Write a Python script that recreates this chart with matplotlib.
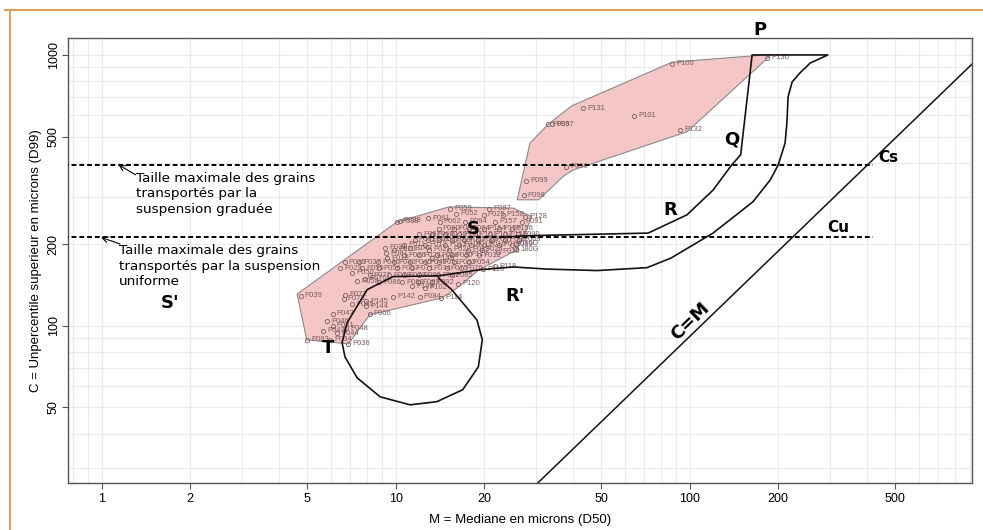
import numpy as np
import matplotlib.pyplot as plt
from matplotlib.lines import Line2D
from matplotlib.ticker import NullFormatter, LogLocator

# --- echantillons (M = D50, C = D99, microns) ---
lower_m = [4.75, 10.1, 10.3, 15.3, 16.0, 20.8, 19.9, 23.1, 27.5, 26.8,
           12.9, 14.1, 21.8, 17.2, 25.7, 25.7, 22.3, 17.4, 9.19, 9.3,
           11.2, 9.35, 13.3, 21.8, 19.8, 6.45, 7.1, 7.86, 7.4, 11.4,
           9.8, 12.05, 6.72, 6.65, 7.1, 7.95, 7.95, 6.1, 5.85, 6.1,
           6.8, 5.65, 6.3, 4.98, 5.97, 6.9, 14.3, 16.3, 8.15,
           14.0, 15.8, 17.7, 20.0, 22.4, 24.8,
           12.0, 13.3, 14.7, 16.4, 18.6, 20.9, 23.5, 26.0,
           11.6, 12.9, 14.0, 15.5, 17.1, 19.0, 21.2, 23.5, 26.2,
           10.7, 12.6, 14.7, 16.4, 18.1, 20.0, 22.4, 24.8,
           9.9, 13.0, 15.2, 17.6, 19.6,
           10.7, 12.0, 13.8, 15.5, 19.2,
           6.7, 7.5, 8.7, 9.9, 11.2, 12.6, 14.0, 15.8, 17.7,
           7.7, 8.8, 10.1, 11.4, 13.0, 14.9, 16.7,
           8.15, 9.5, 10.7, 12.0, 13.9, 15.5,
           8.8, 10.5, 11.9, 13.3,
           12.6]
lower_c = [129, 242, 244, 270, 259, 271, 257, 257, 253, 242,
           250, 242, 242, 242, 201, 192, 188, 183, 194, 185,
           193, 178, 178, 166, 162, 163, 157, 149, 146, 140,
           128, 128, 130, 126, 120, 123, 118, 111, 104, 100,
           98, 96, 94, 89, 89, 85.8, 127, 143, 111,
           228, 228, 228, 228, 228, 228,
           218, 218, 218, 218, 218, 218, 218, 218,
           208, 208, 208, 208, 208, 208, 208, 208, 208,
           199, 199, 199, 199, 199, 199, 199, 199,
           191, 191, 191, 191, 191,
           182, 182, 182, 182, 182,
           172, 172, 172, 172, 172, 172, 172, 172, 172,
           163, 163, 163, 163, 163, 163, 163,
           154, 154, 154, 154, 154, 154,
           145, 145, 145, 145,
           138]
lower_lab = ['P039', 'P038', 'P038', 'P059', 'P052', 'P087', 'P025', 'P158', 'P128', 'P091',
             'P061', 'P062', 'P157', 'P094', '180D', '180G', 'P010', 'P127', 'P031', 'P081',
             'B148', 'P018', 'P149', 'P118', 'P116', 'P029', 'P050', 'P070', 'P058', 'P198',
             'P142', 'P084', 'P072', 'P073', 'P065', 'P145', 'P144', 'P047', 'P046', 'P041',
             'P048', 'P043', 'P044', 'P083', 'P034', 'P036', 'P114', 'P120', 'P066',
             'P060', 'P063', 'P064', 'P154', 'P155', 'P156',
             'P067', 'P069', 'B150', 'P150', 'P151', 'P152', 'P153', 'P090',
             'P001', 'P002', 'P003', 'P004', 'P005', 'P006', 'P007', 'P008', 'P009',
             'P011', 'P012', 'P013', 'P014', 'P015', 'P016', 'P017', 'P019',
             'P020', 'P021', 'P022', 'P023', 'P024',
             'P026', 'P027', 'P028', 'P030', 'P032',
             'P035', 'P037', 'P040', 'P042', 'P045', 'P049', 'P051', 'P053', 'P054',
             'P055', 'P056', 'P057', 'P071', 'P074', 'P075', 'P076',
             'P077', 'P078', 'P079', 'P080', 'P082', 'P085',
             'P086', 'P088', 'P089', 'P092',
             'P102']

upper_m = [86.9, 183, 43.5, 64.8, 33.0, 34.0, 92.7, 37.9, 27.7, 27.2]
upper_c = [926, 975, 636, 596, 555, 555, 529, 387, 343, 303]
upper_lab = ['P100', 'P130', 'P131', 'P101', 'P095', 'P097', 'P132', 'P096', 'P099', 'P098']

# enveloppes
hull_low_m = [4.62, 10.1, 15.2, 25.1, 29.0, 28.0, 25.9, 19.2, 15.9, 14.3, 8.15, 6.9, 4.98]
hull_low_c = [131, 242, 275, 272, 253, 230, 191, 161, 136, 126.6, 109.8, 85.8, 88.8]
hull_up_m = [25.9, 28.6, 33.0, 39.7, 87, 190, 98, 40.1, 37.1, 30.6]
hull_up_c = [292, 472, 555, 649, 940, 1005, 521, 376, 356, 292]

# courbe de Passega (S-R-Q-P puis R'-T)
curve_m = [22.6, 27.1, 72.2, 97.9, 120, 139, 149, 163, 295, 257, 237, 223, 216, 214, 211,
           200, 188, 164, 120, 86.4, 71.6, 48.4, 32.7, 25.1, 19.2, 14.0, 9.79, 7.99, 6.83,
           6.57, 6.72, 7.39, 8.85, 11.2, 13.8, 16.9, 19.1, 19.7, 18.9, 16.9, 15.5, 14.0]
curve_c = [212, 215, 220, 257, 317, 393, 428, 1000, 1000, 934, 858, 795, 700, 561, 473,
           393, 346, 287, 220, 178, 164, 160, 162, 165, 161, 153, 152, 136, 102.6,
           86.6, 76.8, 64.3, 54.7, 51.1, 52.5, 58.1, 70.6, 88.8, 105, 121.6, 136, 150]

cm_m = [30.2, 912]
cm_c = [26.1, 925]

cs_level = 393
cu_level = 212
level_m = [0.7, 420]

fig = plt.figure(figsize=(9.83, 5.30), dpi=100)
ax = fig.add_axes([0.0692, 0.0887, 0.9196, 0.8396])
ax.set_xscale('log')
ax.set_yscale('log')
ax.set_xlim(0.768, 912)
ax.set_ylim(26.3, 1155)

ax.xaxis.set_minor_locator(LogLocator(subs=np.arange(2, 10)))
ax.yaxis.set_minor_locator(LogLocator(subs=np.arange(2, 10)))
ax.grid(which='both', color='#e6ecef', lw=0.8)
ax.set_axisbelow(True)

xt = [1, 2, 5, 10, 20, 50, 100, 200, 500]
yt = [50, 100, 200, 500, 1000]
ax.set_xticks(xt)
ax.set_xticklabels([str(v) for v in xt], family='Liberation Sans', fontsize=9)
ax.set_yticks(yt)
ax.set_yticklabels([str(v) for v in yt], family='Liberation Sans', fontsize=9,
                   rotation=90, va='center')
ax.xaxis.set_minor_formatter(NullFormatter())
ax.yaxis.set_minor_formatter(NullFormatter())
ax.tick_params(which='minor', length=0)
ax.tick_params(which='major', length=4, color='#555555')
ax.tick_params(axis='x', pad=3)
ax.tick_params(axis='y', pad=2)
for s in ax.spines.values():
    s.set_color('#555555')
    s.set_linewidth(1.0)

ax.set_xlabel('M = Mediane en microns (D50)', family='Liberation Sans', fontsize=9.5, labelpad=7)
ax.set_ylabel('C = Unpercentile superieur en microns (D99)', family='Liberation Sans',
              fontsize=9.5, labelpad=4)

# enveloppes roses
ax.fill(hull_low_m, hull_low_c, facecolor='#f5c6c6', edgecolor='#8a8a8a', lw=0.8, zorder=2)
ax.fill(hull_up_m, hull_up_c, facecolor='#f5c6c6', edgecolor='#8a8a8a', lw=0.8, zorder=2)

# points et etiquettes
pt_col = '#7a5e5e'
for mm, cc, lab in zip(lower_m + upper_m, lower_c + upper_c, lower_lab + upper_lab):
    ax.plot(mm, cc, 'o', ms=3, mfc='none', mec=pt_col, mew=0.6, zorder=3)
    ax.annotate(lab, (mm, cc), xytext=(3, 0), textcoords='offset points', va='center',
                fontsize=5.5, color=pt_col, family='Liberation Sans', zorder=3)

# niveaux Cs et Cu
ax.plot(level_m, [cs_level, cs_level], color='black', ls=(0, (2.5, 1.5)), lw=1.4, zorder=4)
ax.plot(level_m, [cu_level, cu_level], color='black', ls=(0, (2.5, 1.5)), lw=1.4, zorder=4)

# courbe et C=M
ax.plot(curve_m, curve_c, color='#1a1010', lw=1.2, zorder=4)
ax.plot(cm_m, cm_c, color='#1a1010', lw=1.1, zorder=4)

bold = dict(family='DejaVu Sans', fontweight='bold', ha='center', va='center', zorder=5)
ax.text(173, 1236, 'P', fontsize=13, clip_on=False, **bold)
ax.text(139, 486, 'Q', fontsize=13, **bold)
ax.text(85.8, 268, 'R', fontsize=13, **bold)
ax.text(18.3, 228, 'S', fontsize=13, **bold)
ax.text(25.4, 129, "R'", fontsize=13, **bold)
ax.text(1.71, 121.6, "S'", fontsize=13, **bold)
ax.text(5.89, 83, 'T', fontsize=13, **bold)
ax.text(473, 417, 'Cs', fontsize=11, **bold)
ax.text(320, 230, 'Cu', fontsize=11, **bold)
ax.text(100, 103.5, 'C=M', fontsize=13, rotation=44, **bold)

# annotations
ax.text(1.305, 307, 'Taille maximale des grains\ntransportés par la\nsuspension graduée',
        family='DejaVu Sans', fontsize=9.7, va='center', ha='left', linespacing=1.25)
ax.text(1.145, 166, 'Taille maximale des grains\ntransportés par la suspension\nuniforme',
        family='DejaVu Sans', fontsize=9.7, va='center', ha='left', linespacing=1.25)
arrow = dict(arrowstyle='->', color='black', lw=0.8, shrinkA=0, shrinkB=0)
ax.annotate('', xy=(1.139, 393), xytext=(1.305, 361), arrowprops=arrow)
ax.annotate('', xy=(0.995, 212), xytext=(1.154, 200.7), arrowprops=arrow)

# cadre orange
fig.add_artist(Line2D([5 / 983, 1], [1 - 10 / 530, 1 - 10 / 530], transform=fig.transFigure,
                      color='#d9a15a', lw=1.5))
fig.add_artist(Line2D([10 / 983, 10 / 983], [0, 1 - 10 / 530], transform=fig.transFigure,
                      color='#d9a15a', lw=1.5))

fig.savefig('out.png', dpi=100)
